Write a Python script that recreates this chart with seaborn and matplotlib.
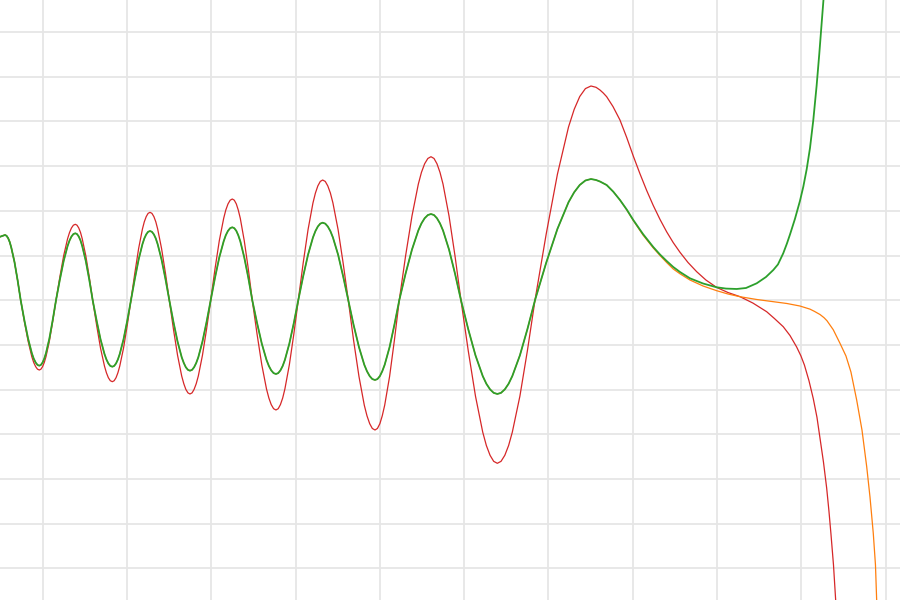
import pandas as pd
import matplotlib
matplotlib.use("Agg")
import matplotlib.pyplot as plt
import seaborn as sns


# shared x positions of the oscillating part (all three curves run here)
osc_x = [-0.520, -0.447,
         -0.429, -0.410, -0.391, -0.373, -0.335, -0.298, -0.261,
         -0.217, -0.173, -0.129, -0.107, -0.084, -0.062, -0.040,
         -0.021, -0.001, 0.019, 0.039, 0.079, 0.118, 0.158,
         0.204, 0.249, 0.295, 0.318, 0.341, 0.364, 0.387,
         0.407, 0.428, 0.449, 0.469, 0.511, 0.552, 0.593,
         0.640, 0.686, 0.733, 0.756, 0.779, 0.802, 0.826,
         0.848, 0.870, 0.892, 0.914, 0.959, 1.003, 1.047,
         1.093, 1.138, 1.183, 1.205, 1.228, 1.250, 1.273,
         1.296, 1.319, 1.342, 1.364, 1.410, 1.456, 1.502,
         1.551, 1.600, 1.649, 1.674, 1.698, 1.723, 1.747,
         1.772, 1.796, 1.821, 1.846, 1.895, 1.944, 1.993,
         2.044, 2.095, 2.147, 2.172, 2.198, 2.224, 2.249,
         2.273, 2.297, 2.320, 2.344, 2.391, 2.439, 2.486,
         2.543, 2.599, 2.655, 2.683, 2.711, 2.739, 2.767,
         2.794, 2.820, 2.847, 2.873, 2.926, 2.979, 3.032,
         3.090, 3.148, 3.206, 3.235, 3.264, 3.293, 3.321,
         3.352, 3.382, 3.413, 3.443, 3.504, 3.564, 3.625,
         3.688, 3.752, 3.815, 3.847, 3.879, 3.910, 3.942,
         3.971, 4.000, 4.028, 4.057, 4.115, 4.172, 4.230,
         4.305, 4.381, 4.456, 4.493, 4.531, 4.569, 4.606,
         4.642, 4.677, 4.713, 4.749, 4.820, 4.891, 4.962,
         5.048, 5.134, 5.220, 5.263, 5.307, 5.350, 5.393,
         5.437, 5.482, 5.527, 5.571, 5.661, 5.750, 5.840,
         5.973, 6.106, 6.238, 6.305, 6.371, 6.438, 6.504]

green_osc = [1.41, 1.459,
             1.441, 1.388, 1.300, 1.180, 0.858, 0.451, 0,
             -0.453, -0.861, -1.185, -1.305, -1.393, -1.447, -1.465,
             -1.447, -1.393, -1.305, -1.185, -0.861, -0.453, 0,
             0.463, 0.880, 1.211, 1.334, 1.424, 1.479, 1.497,
             1.479, 1.424, 1.334, 1.211, 0.880, 0.463, 0,
             -0.460, -0.875, -1.204, -1.326, -1.415, -1.470, -1.488,
             -1.470, -1.415, -1.326, -1.204, -0.875, -0.460, 0,
             0.478, 0.910, 1.252, 1.379, 1.472, 1.529, 1.548,
             1.529, 1.472, 1.379, 1.252, 0.910, 0.478, 0,
             -0.487, -0.927, -1.276, -1.405, -1.500, -1.558, -1.577,
             -1.558, -1.500, -1.405, -1.276, -0.927, -0.487, 0,
             0.504, 0.959, 1.319, 1.453, 1.551, 1.611, 1.631,
             1.611, 1.551, 1.453, 1.319, 0.959, 0.504, 0,
             -0.510, -0.971, -1.336, -1.471, -1.570, -1.631, -1.651,
             -1.631, -1.570, -1.471, -1.336, -0.971, -0.510, 0,
             0.536, 1.020, 1.403, 1.545, 1.649, 1.713, 1.734,
             1.713, 1.649, 1.545, 1.403, 1.020, 0.536, 0,
             -0.552, -1.050, -1.444, -1.590, -1.698, -1.764, -1.785,
             -1.764, -1.698, -1.590, -1.444, -1.050, -0.552, 0,
             0.596, 1.134, 1.560, 1.718, 1.834, 1.905, 1.928,
             1.905, 1.834, 1.718, 1.560, 1.134, 0.596, 0,
             -0.648, -1.234, -1.697, -1.869, -1.995, -2.073, -2.098,
             -2.073, -1.995, -1.869, -1.697, -1.234, -0.648, 0,
             0.838, 1.594, 2.193, 2.415, 2.578, 2.678, 2.711]

red_osc = [1.41, 1.459,
           1.441, 1.388, 1.300, 1.180, 0.858, 0.451, 0,
           -0.483, -0.918, -1.264, -1.392, -1.485, -1.543, -1.562,
           -1.543, -1.485, -1.392, -1.264, -0.918, -0.483, 0,
           0.525, 0.998, 1.374, 1.513, 1.615, 1.678, 1.698,
           1.678, 1.615, 1.513, 1.374, 0.998, 0.525, 0,
           -0.563, -1.072, -1.475, -1.624, -1.734, -1.801, -1.823,
           -1.801, -1.734, -1.624, -1.475, -1.072, -0.563, 0,
           0.607, 1.156, 1.591, 1.752, 1.870, 1.942, 1.966,
           1.942, 1.870, 1.752, 1.591, 1.156, 0.607, 0,
           -0.648, -1.234, -1.697, -1.869, -1.995, -2.073, -2.098,
           -2.073, -1.995, -1.869, -1.697, -1.234, -0.648, 0,
           0.700, 1.331, 1.832, 2.017, 2.153, 2.237, 2.264,
           2.237, 2.153, 2.017, 1.832, 1.331, 0.700, 0,
           -0.759, -1.444, -1.987, -2.188, -2.336, -2.427, -2.456,
           -2.427, -2.336, -2.188, -1.987, -1.444, -0.759, 0,
           0.831, 1.581, 2.175, 2.396, 2.557, 2.657, 2.689,
           2.657, 2.557, 2.396, 2.175, 1.581, 0.831, 0,
           -0.897, -1.708, -2.349, -2.587, -2.762, -2.869, -2.904,
           -2.869, -2.762, -2.587, -2.349, -1.708, -0.897, 0,
           0.992, 1.887, 2.597, 2.860, 3.053, 3.171, 3.210,
           3.171, 3.053, 2.860, 2.597, 1.887, 0.992, 0,
           -1.128, -2.146, -2.952, -3.251, -3.470, -3.605, -3.649,
           -3.605, -3.470, -3.251, -2.952, -2.146, -1.128, 0,
           1.481, 2.818, 3.877, 4.270, 4.557, 4.734, 4.792]

# where the curves part ways
red_tail_x = [6.564, 6.611, 6.650, 6.690, 6.765, 6.848, 6.928, 7.006, 7.085,
              7.165, 7.243, 7.323, 7.402, 7.480, 7.560, 7.655, 7.758, 7.868,
              7.995, 8.129, 8.272, 8.426, 8.588, 8.680, 8.785, 8.865, 8.944,
              8.995, 9.036, 9.090, 9.141, 9.185, 9.221, 9.262, 9.300, 9.327,
              9.351, 9.381, 9.407, 9.428]
red_tail_y = [4.763, 4.702, 4.635, 4.553, 4.333, 4.031, 3.640, 3.225, 2.830,
              2.454, 2.119, 1.807, 1.530, 1.288, 1.072, 0.844, 0.638, 0.451,
              0.286, 0.172, 0.079, -0.065, -0.257, -0.409, -0.593, -0.790,
              -1.047, -1.248, -1.450, -1.800, -2.200, -2.620, -3.083, -3.620,
              -4.201, -4.716, -5.230, -5.924, -6.707, -7.602]

orange_tail_x = [6.564, 6.611, 6.690, 6.769, 6.848, 6.928, 7.006, 7.121, 7.243,
                 7.323, 7.402, 7.480, 7.560, 7.678, 7.833, 7.995, 8.129, 8.272,
                 8.470, 8.667, 8.829, 8.983, 9.102, 9.155, 9.221, 9.268, 9.304,
                 9.378, 9.458, 9.529, 9.588, 9.656, 9.719, 9.775, 9.814, 9.853,
                 9.879, 9.893, 9.915]
orange_tail_y = [2.689, 2.655, 2.577, 2.427, 2.242, 2.022, 1.783, 1.459, 1.168,
                 1.000, 0.843, 0.698, 0.591, 0.452, 0.318, 0.213, 0.139, 0.078,
                 0.016, -0.034, -0.074, -0.130, -0.200, -0.250, -0.320, -0.390,
                 -0.460, -0.660, -0.964, -1.248, -1.606, -2.233, -2.904, -3.725,
                 -4.403, -5.215, -5.924, -6.707, -7.602]

green_tail_x = [6.564, 6.611, 6.690, 6.769, 6.848, 6.928, 7.006, 7.121, 7.243,
                7.323, 7.402, 7.480, 7.560, 7.678, 7.833, 7.995, 8.106, 8.233,
                8.343, 8.470, 8.580, 8.667, 8.722, 8.785, 8.829, 8.865, 8.924,
                8.983, 9.023, 9.063, 9.102, 9.141, 9.181, 9.212, 9.241, 9.260,
                9.286]
green_tail_y = [2.689, 2.655, 2.577, 2.427, 2.242, 2.029, 1.794, 1.481, 1.190,
                1.022, 0.877, 0.743, 0.631, 0.490, 0.374, 0.289, 0.260, 0.251,
                0.273, 0.378, 0.519, 0.676, 0.800, 1.050, 1.270, 1.470, 1.820,
                2.220, 2.540, 2.930, 3.400, 4.020, 4.800, 5.500, 6.200, 6.660,
                7.380]

x_ticks = list(range(0, 11))
y_ticks = list(range(-6, 7))

red = pd.DataFrame({"x": osc_x + red_tail_x, "y": red_osc + red_tail_y})
orange = pd.DataFrame({"x": osc_x + orange_tail_x, "y": green_osc + orange_tail_y})
green = pd.DataFrame({"x": osc_x + green_tail_x, "y": green_osc + green_tail_y})

sns.set_style("white")
fig = plt.figure(figsize=(9, 6), dpi=100)
ax = fig.add_axes([0, 0, 1, 1])

sns.lineplot(data=red, x="x", y="y", ax=ax, color="#d62728", linewidth=0.9,
             estimator=None, sort=False)
sns.lineplot(data=orange, x="x", y="y", ax=ax, color="#ff7f0e", linewidth=0.9,
             estimator=None, sort=False)
sns.lineplot(data=green, x="x", y="y", ax=ax, color="#2ca02c", linewidth=1.3,
             estimator=None, sort=False)

ax.set_xlim(-0.5065, 10.17)
ax.set_ylim(-6.707, 6.716)
ax.set_xticks(x_ticks)
ax.set_yticks(y_ticks)
ax.grid(True, color="#e6e6e6", linewidth=1.3)
ax.set_axisbelow(True)
ax.tick_params(length=0, labelbottom=False, labelleft=False)
ax.set_xlabel("")
ax.set_ylabel("")
for s in ax.spines.values():
    s.set_visible(False)

fig.savefig("out.png", dpi=100)
